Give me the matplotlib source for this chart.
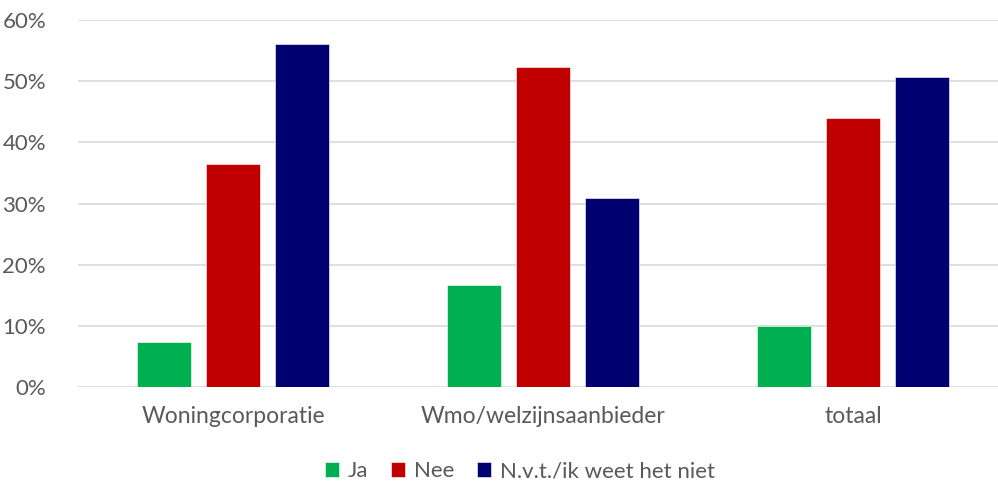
import numpy as np
import matplotlib
matplotlib.use('Agg')
import matplotlib.pyplot as plt
from matplotlib.ticker import PercentFormatter

plt.rcParams['font.family'] = ['Lato', 'DejaVu Sans']

categories = ['Woningcorporatie', 'Wmo/welzijnsaanbieder', 'totaal']
series = ['Ja', 'Nee', 'N.v.t./ik weet het niet']
ja = [7.4, 16.7, 10.0]
nee = [36.4, 52.3, 44.0]
nvt = [56.0, 30.9, 50.7]
colors = ['#00B050', '#C00000', '#000070']

fig = plt.figure(figsize=(9.98, 4.83), dpi=100)
ax = fig.add_axes([78 / 998, 1 - 387 / 483, (998 - 78) / 998, (387 - 20) / 483])

x = np.arange(len(categories))
width = 0.177
step = 0.2226
for i, (vals, name) in enumerate(zip([ja, nee, nvt], series)):
    ax.bar(x + (i - 1) * step, vals, width, color=colors[i], label=name,
           edgecolor='white', linewidth=0.4, zorder=3)

ax.set_xlim(-0.5, 2.5 - 10 / 310)
ax.set_ylim(0, 60)
ax.set_yticks(np.arange(0, 61, 10))
ax.yaxis.set_major_formatter(PercentFormatter(decimals=0))
ax.set_xticks(x)
ax.set_xticklabels(categories)
ax.grid(axis='y', color='#D9D9D9', linewidth=1.2, zorder=0)
for s in ax.spines.values():
    s.set_visible(False)
ax.tick_params(length=0, labelsize=16.5, labelcolor='#595959')
ax.tick_params(axis='y', labelsize=16, pad=23)
ax.tick_params(axis='x', pad=14)

leg = fig.legend(loc='center', bbox_to_anchor=(520 / 998, 1 - 471 / 483), ncol=3,
                 frameon=False, fontsize=16, handlelength=0.65, handleheight=0.65,
                 handletextpad=0.4, columnspacing=1.0)
for t in leg.get_texts():
    t.set_color('#595959')

fig.savefig('out.png', dpi=100)
